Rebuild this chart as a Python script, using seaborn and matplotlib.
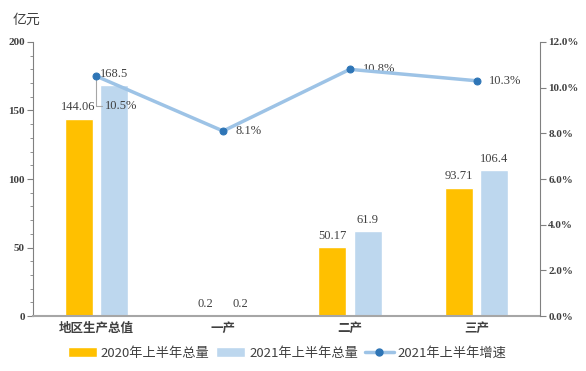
import matplotlib
matplotlib.use("Agg")
import numpy as np
import pandas as pd
import matplotlib.pyplot as plt
import seaborn as sns
from matplotlib.lines import Line2D
from matplotlib.patches import Patch
from matplotlib.ticker import MultipleLocator, FuncFormatter

categories = ["地区生产总值", "一产", "二产", "三产"]
total_2020 = [144.06, 0.2, 50.17, 93.71]
total_2021 = [168.5, 0.2, 61.9, 106.4]
growth_2021 = [10.5, 8.1, 10.8, 10.3]
series_names = ["2020年上半年总量", "2021年上半年总量", "2021年上半年增速"]

sns.set_style("white")
plt.rcParams['font.family'] = ['Noto Sans CJK SC', 'DejaVu Sans']

yellow = "#FFC000"
lightblue = "#BDD7EE"
linecol = "#9DC3E6"
dotcol = "#2E75B6"
axcol = "#808080"

df = pd.DataFrame({
    "cat": categories * 2,
    "val": total_2020 + total_2021,
    "series": [series_names[0]] * 4 + [series_names[1]] * 4,
})

fig = plt.figure(figsize=(5.86, 3.71), dpi=100)
ax = fig.add_axes([0.0563, 0.148, 0.865, 0.739])
sns.barplot(data=df, x="cat", y="val", hue="series", palette=[yellow, lightblue],
            width=0.56, gap=0.21, ax=ax, legend=False, saturation=1)
ax.set_xlim(-0.5, 3.5)
ax.set_ylim(0, 200)
ax.set_xlabel("")
ax.set_ylabel("")
ax.yaxis.set_major_locator(MultipleLocator(50))
ax.yaxis.set_minor_locator(MultipleLocator(10))

serif = "Liberation Serif"
for lab in ax.get_yticklabels():
    lab.set_fontfamily(serif)
    lab.set_fontweight("bold")
    lab.set_fontsize(8)
    lab.set_color("#404040")
ax.tick_params(axis="y", which="major", length=4, color=axcol, left=True, pad=2)
ax.tick_params(axis="y", which="minor", length=2, color=axcol, left=True)
ax.tick_params(axis="x", length=0, pad=4)
for lab in ax.get_xticklabels():
    lab.set_fontweight("bold")
    lab.set_fontsize(9)
    lab.set_color("#404040")

for s in ["top", "right"]:
    ax.spines[s].set_visible(False)
ax.spines["left"].set_color(axcol)
ax.spines["left"].set_linewidth(0.8)
ax.spines["bottom"].set_color("#A6A6A6")
ax.spines["bottom"].set_linewidth(1.5)

# bar value labels
for i, (a, b) in enumerate(zip(total_2020, total_2021)):
    ax.text(i - 0.14, a + 4, f"{a:g}", ha="center", va="bottom", fontsize=9,
            family=serif, color="#404040")
    ax.text(i + 0.14, b + 4, f"{b:g}", ha="center", va="bottom", fontsize=9,
            family=serif, color="#404040")

ax.text(-0.012, 1.08, "亿元", transform=ax.transAxes, fontsize=10,
        color="#404040", ha="center", va="center")

ax2 = ax.twinx()
sns.lineplot(x=np.arange(len(categories)), y=growth_2021, ax=ax2, color=linecol,
             linewidth=2.5, marker="o", markersize=5, markerfacecolor=dotcol,
             markeredgecolor=dotcol, zorder=5)
ax2.set_ylim(0, 12)
ax2.set_xlim(-0.5, 3.5)
ax2.yaxis.set_major_locator(MultipleLocator(2))
ax2.yaxis.set_major_formatter(FuncFormatter(lambda v, p: f"{v:.1f}%"))
for lab in ax2.get_yticklabels():
    lab.set_fontfamily(serif)
    lab.set_fontweight("bold")
    lab.set_fontsize(8)
    lab.set_color("#404040")
ax2.tick_params(axis="y", length=4, color=axcol, right=True, pad=2)
for s in ["top", "left", "bottom"]:
    ax2.spines[s].set_visible(False)
ax2.spines["right"].set_color(axcol)
ax2.spines["right"].set_linewidth(0.8)

for i, g in enumerate(growth_2021):
    if i == 0:
        ax2.annotate(f"{g}%", xy=(i, g), xytext=(i + 0.07, g - 1.3), fontsize=9,
                     family=serif, color="#404040", va="center", ha="left",
                     arrowprops=dict(arrowstyle="-", color="#A6A6A6", lw=0.8,
                                     connectionstyle="angle,angleA=0,angleB=90,rad=0",
                                     shrinkA=0, shrinkB=0))
    else:
        ax2.text(i + 0.1, g, f"{g}%", fontsize=9, family=serif, color="#404040",
                 va="center", ha="left")

handles = [Patch(facecolor=yellow), Patch(facecolor=lightblue),
           Line2D([0], [0], color=linecol, lw=2.5, marker="o", markersize=5,
                  markerfacecolor=dotcol, markeredgecolor=dotcol)]
fig.legend(handles, series_names, loc="center", bbox_to_anchor=(0.49, 0.048), ncol=3,
           frameon=False, fontsize=9.5, handlelength=2.2, handletextpad=0.3,
           columnspacing=0.5, labelcolor="#404040")

fig.savefig("out.png", dpi=100)
